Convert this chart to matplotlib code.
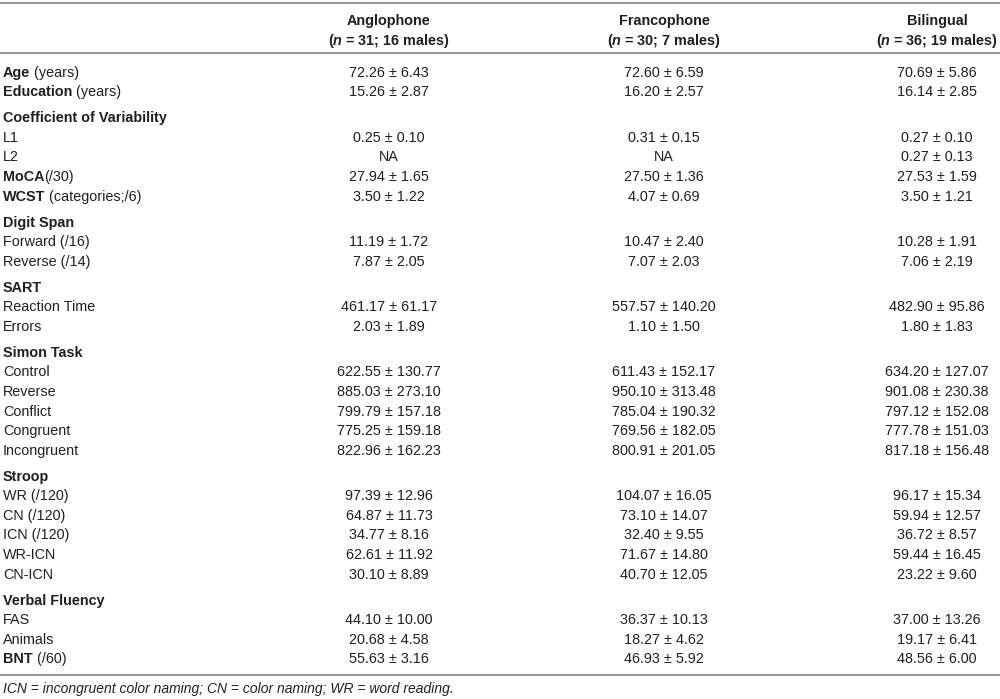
import numpy as np
import matplotlib
matplotlib.use("Agg")
import matplotlib.pyplot as plt

plt.rcParams['font.family'] = 'Liberation Sans'
plt.rcParams['mathtext.fontset'] = 'custom'
plt.rcParams['mathtext.it'] = 'Liberation Sans:italic:bold'
plt.rcParams['mathtext.rm'] = 'Liberation Sans:bold'

groups = ["Anglophone", "Francophone", "Bilingual"]
group_n = [31, 30, 36]
group_males = [16, 7, 19]

# (bold part, plain part) for every row; section rows carry no values
row_labels = [
    ("Age", " (years)"), ("Education", " (years)"),
    ("Coefficient of Variability", ""), ("", "L1"), ("", "L2"),
    ("MoCA", "(/30)"), ("WCST", " (categories;/6)"),
    ("Digit Span", ""), ("", "Forward (/16)"), ("", "Reverse (/14)"),
    ("SART", ""), ("", "Reaction Time"), ("", "Errors"),
    ("Simon Task", ""), ("", "Control"), ("", "Reverse"), ("", "Conflict"),
    ("", "Congruent"), ("", "Incongruent"),
    ("Stroop", ""), ("", "WR (/120)"), ("", "CN (/120)"), ("", "ICN (/120)"),
    ("", "WR-ICN"), ("", "CN-ICN"),
    ("Verbal Fluency", ""), ("", "FAS"), ("", "Animals"), ("BNT", " (/60)"),
]
is_section = [lbl[1] == "" for lbl in row_labels]

NA = np.nan
anglo_mean = [72.26, 15.26, None, 0.25, NA, 27.94, 3.50, None, 11.19, 7.87,
              None, 461.17, 2.03, None, 622.55, 885.03, 799.79, 775.25, 822.96,
              None, 97.39, 64.87, 34.77, 62.61, 30.10, None, 44.10, 20.68, 55.63]
anglo_sd = [6.43, 2.87, None, 0.10, NA, 1.65, 1.22, None, 1.72, 2.05,
            None, 61.17, 1.89, None, 130.77, 273.10, 157.18, 159.18, 162.23,
            None, 12.96, 11.73, 8.16, 11.92, 8.89, None, 10.00, 4.58, 3.16]
franco_mean = [72.60, 16.20, None, 0.31, NA, 27.50, 4.07, None, 10.47, 7.07,
               None, 557.57, 1.10, None, 611.43, 950.10, 785.04, 769.56, 800.91,
               None, 104.07, 73.10, 32.40, 71.67, 40.70, None, 36.37, 18.27, 46.93]
franco_sd = [6.59, 2.57, None, 0.15, NA, 1.36, 0.69, None, 2.40, 2.03,
             None, 140.20, 1.50, None, 152.17, 313.48, 190.32, 182.05, 201.05,
             None, 16.05, 14.07, 9.55, 14.80, 12.05, None, 10.13, 4.62, 5.92]
bi_mean = [70.69, 16.14, None, 0.27, 0.27, 27.53, 3.50, None, 10.28, 7.06,
           None, 482.90, 1.80, None, 634.20, 901.08, 797.12, 777.78, 817.18,
           None, 96.17, 59.94, 36.72, 59.44, 23.22, None, 37.00, 19.17, 48.56]
bi_sd = [5.86, 2.85, None, 0.10, 0.13, 1.59, 1.21, None, 1.91, 2.19,
         None, 95.86, 1.83, None, 127.07, 230.38, 152.08, 151.03, 156.48,
         None, 15.34, 12.57, 8.57, 16.45, 9.60, None, 13.26, 6.41, 6.00]

footnote = "ICN = incongruent color naming; CN = color naming; WR = word reading."

txt_color = '#231f20'
rule_color = '#8c8c8c'
fs = 10.4

fig = plt.figure(figsize=(10, 6.99), dpi=100)
ax = fig.add_axes([0, 0, 1, 1])
ax.set_xlim(0, 1000)
ax.set_ylim(699, 0)
ax.axis('off')
renderer = fig.canvas.get_renderer()

col_x = [389, 664, 937]
left_x = 3

# rules
for yy in [2.5, 53, 675]:
    ax.axhline(yy, color=rule_color, lw=1.3)

# header
for x, g, n, m in zip(col_x, groups, group_n, group_males):
    ax.text(x, 20 + 5, g, ha='center', va='baseline', fontsize=fs,
            fontweight='bold', color=txt_color)
    ax.text(x, 40.5 + 5, r'($n$ = %d; %d males)' % (n, m), ha='center',
            va='baseline', fontsize=fs, fontweight='bold', color=txt_color)

# body rows
pitch, gap = 19.6, 6.3
n_sec = 0
columns = [(anglo_mean, anglo_sd), (franco_mean, franco_sd), (bi_mean, bi_sd)]
for i, (lbl, sec) in enumerate(zip(row_labels, is_section)):
    if sec and i > 0:
        n_sec += 1
    y = 71.7 + pitch * i + gap * n_sec + 5
    bold, plain = lbl
    x = left_x
    if bold:
        t = ax.text(x, y, bold, ha='left', va='baseline', fontsize=fs,
                    fontweight='bold', color=txt_color)
        x += t.get_window_extent(renderer).width
    if plain:
        ax.text(x, y, plain, ha='left', va='baseline', fontsize=fs,
                color=txt_color)
    for cx, (means, sds) in zip(col_x, columns):
        mv, sv = means[i], sds[i]
        if mv is None:
            continue
        s = "NA" if np.isnan(mv) else "%.2f \u00b1 %.2f" % (mv, sv)
        ax.text(cx, y, s, ha='center', va='baseline', fontsize=fs,
                color=txt_color)

ax.text(left_x, 689 + 4.5, footnote, ha='left', va='baseline', fontsize=10,
        style='italic', color=txt_color)

fig.savefig('out.png', dpi=100)
